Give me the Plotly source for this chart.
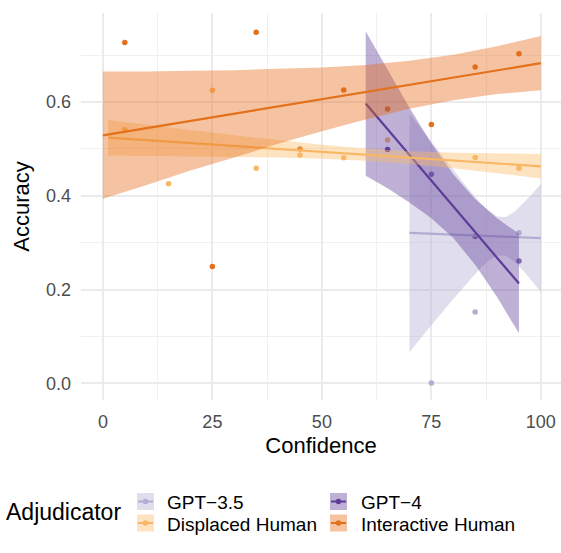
import plotly.graph_objects as go

# ---------------- data ----------------
groups = ["GPT−3.5", "GPT−4", "Displaced Human", "Interactive Human"]
line_colors = {"GPT−3.5": "#B2ABD2", "GPT−4": "#5E3C99",
               "Displaced Human": "#F9B765", "Interactive Human": "#E3701A"}
fill_colors = {"GPT−3.5": "rgba(178,171,210,0.4)", "GPT−4": "rgba(94,60,153,0.4)",
               "Displaced Human": "rgba(253,184,99,0.4)", "Interactive Human": "rgba(230,105,20,0.4)"}

# binned mean accuracy per confidence bin
ih_x = [5, 25, 35, 45, 55, 65, 75, 85, 95]
ih_y = [0.727, 0.249, 0.749, 0.500, 0.626, 0.585, 0.552, 0.675, 0.703]
dh_x = [5, 15, 25, 35, 45, 55, 65, 85, 95]
dh_y = [0.541, 0.426, 0.625, 0.459, 0.487, 0.481, 0.519, 0.482, 0.459]
g4_x = [65, 75, 85, 95]
g4_y = [0.499, 0.446, 0.313, 0.261]
g35_x = [75, 85, 95]
g35_y = [0.001, 0.152, 0.321]

# linear fits (values at ends of each group's range)
ih_fit_x = [0, 100];   ih_fit_y = [0.529, 0.683]
dh_fit_x = [1.2, 100]; dh_fit_y = [0.524, 0.463]
g4_fit_x = [60, 95];   g4_fit_y = [0.597, 0.213]
g35_fit_x = [70, 100]; g35_fit_y = [0.321, 0.310]

# confidence bands (upper/lower read at sampled confidences)
ih_ci_x = [0, 10, 20, 30, 40, 50, 60, 70, 80, 90, 100]
ih_ci_hi = [0.665, 0.665, 0.667, 0.668, 0.671, 0.674, 0.679, 0.688, 0.701, 0.719, 0.741]
ih_ci_lo = [0.394, 0.423, 0.454, 0.482, 0.511, 0.538, 0.563, 0.586, 0.604, 0.617, 0.625]

dh_ci_x = [1.2, 10, 20, 30, 40, 50, 60, 70, 80, 90, 100]
dh_ci_hi = [0.562, 0.552, 0.540, 0.529, 0.519, 0.509, 0.501, 0.495, 0.492, 0.490, 0.489]
dh_ci_lo = [0.486, 0.485, 0.484, 0.483, 0.482, 0.479, 0.475, 0.468, 0.459, 0.448, 0.437]

g4_ci_x = [60, 65, 70, 75, 80, 85, 90, 95]
g4_ci_hi = [0.751, 0.668, 0.588, 0.512, 0.446, 0.393, 0.352, 0.319]
g4_ci_lo = [0.443, 0.416, 0.386, 0.352, 0.310, 0.253, 0.184, 0.107]

g35_ci_x = [70, 75, 80, 83, 86, 88, 90, 92, 94, 96, 98, 100]
g35_ci_hi = [0.575, 0.515, 0.455, 0.420, 0.387, 0.369, 0.356, 0.355, 0.366, 0.384, 0.404, 0.425]
g35_ci_lo = [0.067, 0.124, 0.180, 0.213, 0.244, 0.261, 0.272, 0.272, 0.259, 0.240, 0.218, 0.195]

x_ticks = [0, 25, 50, 75, 100]
y_ticks = [0.0, 0.2, 0.4, 0.6]
y_ticktext = ["0.0", "0.2", "0.4", "0.6"]

points = {"GPT−3.5": (g35_x, g35_y), "GPT−4": (g4_x, g4_y),
          "Displaced Human": (dh_x, dh_y), "Interactive Human": (ih_x, ih_y)}
fits = {"GPT−3.5": (g35_fit_x, g35_fit_y), "GPT−4": (g4_fit_x, g4_fit_y),
        "Displaced Human": (dh_fit_x, dh_fit_y), "Interactive Human": (ih_fit_x, ih_fit_y)}
bands = {"GPT−3.5": (g35_ci_x, g35_ci_lo, g35_ci_hi), "GPT−4": (g4_ci_x, g4_ci_lo, g4_ci_hi),
         "Displaced Human": (dh_ci_x, dh_ci_lo, dh_ci_hi),
         "Interactive Human": (ih_ci_x, ih_ci_lo, ih_ci_hi)}

FONT = "Liberation Sans, Arial, Helvetica, sans-serif"
W, H = 561, 553
ML, MR, MT, MB = 81, 0, 13, 153

fig = go.Figure()

# points first (ribbons are drawn over them, as in ggplot)
for g in groups:
    x, y = points[g]
    fig.add_trace(go.Scatter(x=x, y=y, mode="markers", name=g, showlegend=False,
                             marker=dict(color=line_colors[g], size=5.5, line=dict(width=0))))

# ribbons + fit lines
for g in groups:
    bx, lo, hi = bands[g]
    fig.add_trace(go.Scatter(x=list(bx) + list(bx)[::-1], y=list(hi) + list(lo)[::-1],
                             mode="lines", fill="toself", fillcolor=fill_colors[g],
                             line=dict(width=0), hoverinfo="skip", showlegend=False))
    fx, fy = fits[g]
    fig.add_trace(go.Scatter(x=fx, y=fy, mode="lines", showlegend=False,
                             line=dict(color=line_colors[g], width=2.2)))

grid = dict(showgrid=True, gridcolor="#EBEBEB", gridwidth=1.6, zeroline=False,
            showline=False, ticks="", tickfont=dict(family=FONT, size=18, color="#4D4D4D"))

fig.update_xaxes(range=[-5, 104.6], tickvals=x_ticks, ticklabelstandoff=9,
                 minor=dict(tickvals=[12.5, 37.5, 62.5, 87.5], showgrid=True,
                            gridcolor="#F0F0F0", gridwidth=1.0),
                 title=dict(text="Confidence", font=dict(family=FONT, size=22, color="black"),
                            standoff=6), **grid)
fig.update_yaxes(range=[-0.0355, 0.79], tickvals=y_ticks, ticktext=y_ticktext,
                 ticklabelstandoff=9,
                 minor=dict(tickvals=[0.1, 0.3, 0.5, 0.7], showgrid=True,
                            gridcolor="#F0F0F0", gridwidth=1.0),
                 title=dict(text="Accuracy", font=dict(family=FONT, size=22, color="black"),
                            standoff=10), **grid)

# ---- manual ggplot-style legend (bottom) ----
pw, ph = W - ML - MR, H - MT - MB
def px(xp):
    return (xp - ML) / pw
def py(yp):
    return (H - MB - yp) / ph

shapes = []
annots = []
annots.append(dict(text="Adjudicator", x=px(4), y=py(512), xref="paper", yref="paper",
                   xanchor="left", yanchor="middle", showarrow=False,
                   font=dict(family=FONT, size=23, color="black")))
key_cols = [137, 330]
text_cols = [165, 359]
row_centers = [501.5, 523]
for i, g in enumerate(groups):
    r, c = divmod(i, 2)
    x0 = key_cols[c]; yc = row_centers[r]
    shapes.append(dict(type="rect", xref="paper", yref="paper",
                       x0=px(x0), x1=px(x0 + 17), y0=py(yc - 8.5), y1=py(yc + 8.5),
                       fillcolor=fill_colors[g], line=dict(width=0)))
    shapes.append(dict(type="line", xref="paper", yref="paper",
                       x0=px(x0 + 1), x1=px(x0 + 16), y0=py(yc), y1=py(yc),
                       line=dict(color=line_colors[g], width=2)))
    shapes.append(dict(type="circle", xref="paper", yref="paper",
                       x0=px(x0 + 8.5 - 2.7), x1=px(x0 + 8.5 + 2.7),
                       y0=py(yc - 2.7), y1=py(yc + 2.7),
                       fillcolor=line_colors[g], line=dict(width=0)))
    annots.append(dict(text=g, x=px(text_cols[c]), y=py(yc + 1), xref="paper", yref="paper",
                       xanchor="left", yanchor="middle", showarrow=False,
                       font=dict(family=FONT, size=19, color="black")))

fig.update_layout(width=W, height=H, margin=dict(l=ML, r=MR, t=MT, b=MB, autoexpand=False),
                  plot_bgcolor="white", paper_bgcolor="white", showlegend=False,
                  shapes=shapes, annotations=annots, font=dict(family=FONT))

fig.write_html("out.html")
